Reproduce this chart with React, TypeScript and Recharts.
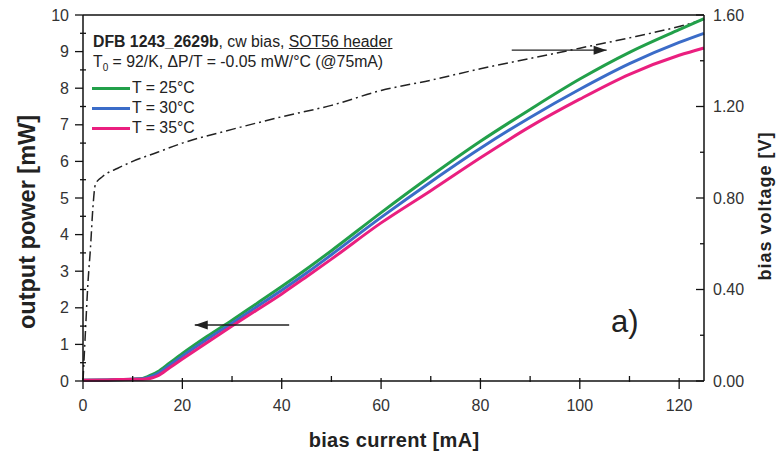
import React from "react";
import { LineChart, Line, XAxis, YAxis, ReferenceLine } from "recharts";

const FONT = "'Liberation Sans', Arial, Helvetica, sans-serif";

// bias current [mA] sample points for the power curves
const currents = [0, 5, 10, 12, 13, 14, 15, 17.5, 20, 25, 30, 35, 40, 45, 50, 60, 70, 80, 90, 100, 110, 120, 125];
const power25 = [0.02, 0.03, 0.05, 0.07, 0.12, 0.18, 0.25, 0.5, 0.75, 1.22, 1.66, 2.12, 2.58, 3.06, 3.56, 4.6, 5.6, 6.55, 7.42, 8.25, 8.98, 9.6, 9.9];
const power30 = [0.02, 0.03, 0.05, 0.06, 0.09, 0.14, 0.2, 0.44, 0.68, 1.14, 1.58, 2.03, 2.48, 2.95, 3.45, 4.47, 5.44, 6.36, 7.2, 7.97, 8.67, 9.25, 9.5];
const power35 = [0.02, 0.03, 0.05, 0.05, 0.06, 0.09, 0.14, 0.37, 0.6, 1.05, 1.5, 1.94, 2.38, 2.85, 3.33, 4.32, 5.2, 6.1, 6.95, 7.7, 8.38, 8.9, 9.1];

// bias voltage curve (right axis)
const voltCurrents = [0, 0.5, 1, 1.5, 2, 2.5, 4, 7, 10, 15, 20, 30, 40, 50, 60, 70, 80, 90, 100, 110, 120, 125];
const voltage = [0, 0.22, 0.43, 0.58, 0.76, 0.86, 0.895, 0.93, 0.96, 1.0, 1.04, 1.1, 1.155, 1.205, 1.27, 1.315, 1.365, 1.41, 1.455, 1.5, 1.55, 1.58];

const xTicks = [0, 10, 20, 30, 40, 50, 60, 70, 80, 90, 100, 110, 120];
const leftTicks = [0, 0.5, 1, 1.5, 2, 2.5, 3, 3.5, 4, 4.5, 5, 5.5, 6, 6.5, 7, 7.5, 8, 8.5, 9, 9.5, 10];
const rightTicks = [0, 0.2, 0.4, 0.6, 0.8, 1.0, 1.2, 1.4, 1.6];

const series = [
  { name: "T = 25°C", values: power25, color: "#22a04a" },
  { name: "T = 30°C", values: power30, color: "#3b6cc8" },
  { name: "T = 35°C", values: power35, color: "#ea1f7f" },
];

const toPoints = (xs: number[], ys: number[]) => xs.map((x, i) => ({ x, y: ys[i] }));

const LeftTick = (p: any) => {
  const v = p.payload.value;
  const major = Number.isInteger(v);
  return (
    <g>
      <line x1={major ? p.x - 8 : p.x - 3} x2={major ? p.x : p.x + 3} y1={p.y} y2={p.y} stroke="#111" strokeWidth={1.3} />
      {major && (
        <text x={p.x - 14} y={p.y} textAnchor="end" dominantBaseline="central" fontSize={16} fill="#333" fontFamily={FONT}>
          {v}
        </text>
      )}
    </g>
  );
};

const BottomTick = (p: any) => {
  const v = p.payload.value;
  const major = v % 20 === 0;
  return (
    <g>
      <line x1={p.x} x2={p.x} y1={major ? p.y - 3 : p.y - 5} y2={major ? p.y + 8 : p.y + 1} stroke="#111" strokeWidth={1.3} />
      {major && (
        <text x={p.x} y={p.y + 30} textAnchor="middle" fontSize={16} fill="#333" fontFamily={FONT}>
          {v}
        </text>
      )}
    </g>
  );
};

const RightTick = (p: any) => {
  const v = p.payload.value;
  const major = Math.round(v * 10) % 4 === 0;
  return (
    <g>
      <line x1={major ? p.x - 8 : p.x - 4} x2={p.x} y1={p.y} y2={p.y} stroke="#111" strokeWidth={1.3} />
      {major && (
        <text x={p.x + 9} y={p.y} textAnchor="start" dominantBaseline="central" fontSize={16} fill="#333" fontFamily={FONT}>
          {v.toFixed(2)}
        </text>
      )}
    </g>
  );
};

const Arrow = (dir: "left" | "right") => (p: any) => {
  const { x1, y1, x2, y2 } = p;
  const tip = dir === "left" ? Math.min(x1, x2) : Math.max(x1, x2);
  const s = dir === "left" ? 1 : -1;
  return (
    <g>
      <line x1={x1} y1={y1} x2={x2} y2={y2} stroke="#222" strokeWidth={1.3} />
      <polygon points={`${tip},${y1} ${tip + s * 13},${y1 - 4.5} ${tip + s * 13},${y1 + 4.5}`} fill="#222" />
    </g>
  );
};

export default function App() {
  return (
    <div style={{ position: "absolute", left: 0, top: 0, width: 776, height: 457, background: "#fff", fontFamily: FONT }}>
      <LineChart width={776} height={457} margin={{ top: 15, right: 0, bottom: 0, left: 0 }}>
        <XAxis
          type="number"
          dataKey="x"
          domain={[0, 125]}
          ticks={xTicks}
          interval={0}
          height={76}
          tickSize={0}
          tickMargin={0}
          tick={<BottomTick />}
          axisLine={{ stroke: "#111", strokeWidth: 1.5 }}
          allowDuplicatedCategory={false}
        />
        <YAxis
          yAxisId="left"
          type="number"
          domain={[0, 10]}
          ticks={leftTicks}
          interval={0}
          width={83}
          tickSize={0}
          tickMargin={0}
          tick={<LeftTick />}
          axisLine={{ stroke: "#111", strokeWidth: 1.5 }}
        />
        <YAxis
          yAxisId="right"
          orientation="right"
          type="number"
          domain={[0, 1.6]}
          ticks={rightTicks}
          interval={0}
          width={72}
          tickSize={0}
          tickMargin={0}
          tick={<RightTick />}
          axisLine={{ stroke: "#111", strokeWidth: 1.5 }}
        />
        <ReferenceLine yAxisId="left" y={10} stroke="#111" strokeWidth={1.5} />
        <Line
          yAxisId="right"
          data={toPoints(voltCurrents, voltage)}
          dataKey="y"
          type="monotone"
          stroke="#222"
          strokeWidth={1.5}
          strokeDasharray="10 4 2 4"
          dot={false}
          isAnimationActive={false}
        />
        {series.map((s) => (
          <Line
            key={s.name}
            yAxisId="left"
            data={toPoints(currents, s.values)}
            dataKey="y"
            name={s.name}
            type="monotone"
            stroke={s.color}
            strokeWidth={3}
            dot={false}
            isAnimationActive={false}
          />
        ))}
        <ReferenceLine
          yAxisId="left"
          segment={[{ x: 41.5, y: 1.53 }, { x: 22.5, y: 1.53 }]}
          shape={Arrow("left")}
        />
        <ReferenceLine
          yAxisId="left"
          segment={[{ x: 86.3, y: 9.04 }, { x: 105.4, y: 9.04 }]}
          shape={Arrow("right")}
        />
      </LineChart>

      {/* header text + legend */}
      <div style={{ position: "absolute", left: 93, top: 32, fontSize: 15.8, lineHeight: "20px", color: "#222", whiteSpace: "nowrap" }}>
        <div>
          <b>DFB 1243_2629b</b>, cw bias, <u>SOT56 header</u>
        </div>
        <div>
          T<sub style={{ fontSize: 10, verticalAlign: "-4px" }}>0</sub> = 92/K, ΔP/T = -0.05 mW/°C (@75mA)
        </div>
        {series.map((s) => (
          <div key={s.name} style={{ display: "flex", alignItems: "center", marginLeft: -1 }}>
            <span style={{ display: "inline-block", width: 38, height: 3, background: s.color, marginRight: 2 }} />
            <span>{s.name}</span>
          </div>
        ))}
      </div>

      <div style={{ position: "absolute", left: 611, top: 304, fontSize: 31, lineHeight: "36px", color: "#222" }}>a)</div>

      <div style={{ position: "absolute", left: 27, top: 222, transform: "translate(-50%, -50%) rotate(-90deg)", fontSize: 23.5, fontWeight: "bold", color: "#222", whiteSpace: "nowrap" }}>
        output power [mW]
      </div>
      <div style={{ position: "absolute", left: 394, top: 440, transform: "translate(-50%, -50%)", fontSize: 20, letterSpacing: 0.3, fontWeight: "bold", color: "#222", whiteSpace: "nowrap" }}>
        bias current [mA]
      </div>
      <div style={{ position: "absolute", left: 765, top: 206, transform: "translate(-50%, -50%) rotate(-90deg)", fontSize: 18, letterSpacing: 1, fontWeight: "bold", color: "#222", whiteSpace: "nowrap" }}>
        bias voltage [V]
      </div>
    </div>
  );
}
